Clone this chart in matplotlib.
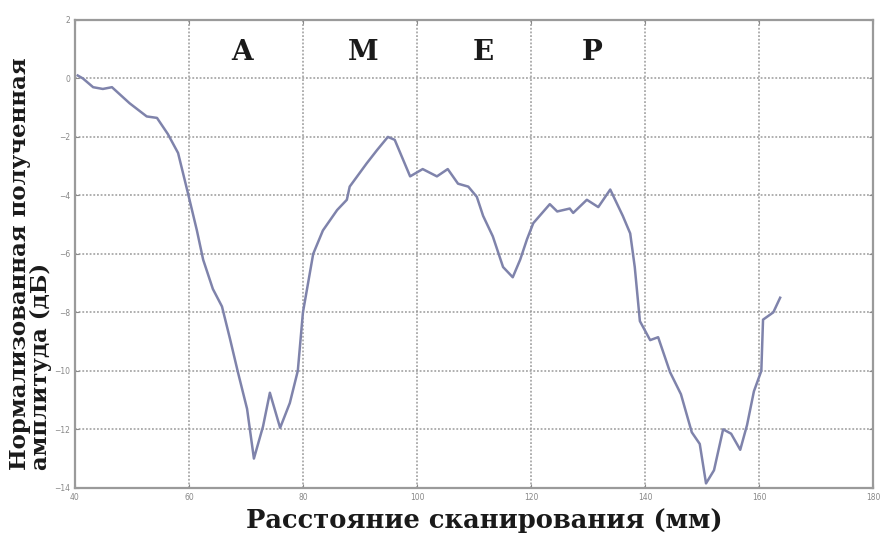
import matplotlib
matplotlib.use("Agg")
import matplotlib.pyplot as plt

# Scan distance (mm) and normalized received amplitude (dB)
distance_mm = [40.5, 41.4, 43.2, 44.9, 46.5, 49.6, 52.6, 54.4, 56.3, 58.1, 59.8,
               61.4, 62.5, 64.2, 65.8, 67.2, 68.6, 70.2, 71.4, 73.0, 74.2, 76.0,
               77.7, 79.1, 80.0, 81.8, 83.5, 86.0, 87.7, 88.2, 91.2, 93.0, 94.9,
               96.1, 98.8, 101.0, 103.5, 105.4, 107.2, 109.0, 110.5, 111.6, 113.3,
               115.1, 116.8, 118.1, 119.3, 120.4, 123.3, 124.6, 126.8, 127.4,
               129.8, 131.8, 133.9, 136.1, 137.4, 138.2, 139.1, 140.9, 142.3,
               144.4, 146.3, 148.2, 149.6, 150.7, 152.1, 153.7, 155.1, 156.7,
               157.9, 159.1, 160.4, 160.7, 162.5, 163.7]
amplitude_db = [0.1, 0.0, -0.3, -0.36, -0.3, -0.85, -1.3, -1.35, -1.9, -2.55, -3.9,
                -5.2, -6.2, -7.2, -7.8, -8.9, -10.05, -11.3, -13.0, -11.9, -10.75,
                -11.95, -11.1, -10.0, -8.0, -6.0, -5.2, -4.5, -4.15, -3.7, -2.9,
                -2.45, -2.0, -2.1, -3.35, -3.1, -3.35, -3.1, -3.6, -3.7, -4.05,
                -4.7, -5.4, -6.45, -6.8, -6.2, -5.5, -4.95, -4.3, -4.55, -4.45,
                -4.6, -4.15, -4.4, -3.8, -4.7, -5.3, -6.45, -8.3, -8.95, -8.85,
                -10.05, -10.8, -12.1, -12.5, -13.85, -13.4, -12.0, -12.15, -12.7,
                -11.85, -10.7, -10.0, -8.25, -8.0, -7.5]

# Region labels along the top of the plot
region_labels = ["A", "M", "E", "P"]
region_x = [69.3, 90.5, 111.6, 130.7]

x_ticks = [40, 60, 80, 100, 120, 140, 160, 180]
y_ticks = [-14, -12, -10, -8, -6, -4, -2, 0, 2]

fig = plt.figure(figsize=(8.81, 5.39), dpi=100)
ax = fig.add_axes([0.085, 0.095, 0.906, 0.868])

ax.plot(distance_mm, amplitude_db, color="#7f83ab", linewidth=1.8)

ax.set_xlim(40, 180)
ax.set_ylim(-14, 2)
ax.set_xticks(x_ticks)
ax.set_yticks(y_ticks)
ax.tick_params(axis="both", direction="in", length=3, width=0.8, colors="#8a8a8a",
               labelsize=5.5, labelcolor="#888888", top=True, right=True)
ax.grid(True, color="#9a9a9a", linestyle=(0, (1.2, 1.2)), linewidth=1.1)

for side in ["left", "right", "top", "bottom"]:
    ax.spines[side].set_color("#9a9a9a")
    ax.spines[side].set_linewidth(1.6)

serif_bold = dict(family=["DejaVu Serif"], fontweight="bold")

for lab, xv in zip(region_labels, region_x):
    ax.text(xv, 0.9, lab, ha="center", va="center", fontsize=20,
            color="#1a1a1a", **serif_bold)

fig.text(0.55, 0.012, "Расстояние сканирования (мм)", ha="center", va="bottom",
         fontsize=18.5, color="#1a1a1a", **serif_bold)
fig.text(0.010, 0.128, "Нормализованная полученная\nамплитуда (дБ)",
         rotation=90, ha="left", va="bottom", multialignment="left",
         fontsize=16.5, color="#1a1a1a", linespacing=0.95, **serif_bold)

fig.savefig("out.png", dpi=100, facecolor="white")
